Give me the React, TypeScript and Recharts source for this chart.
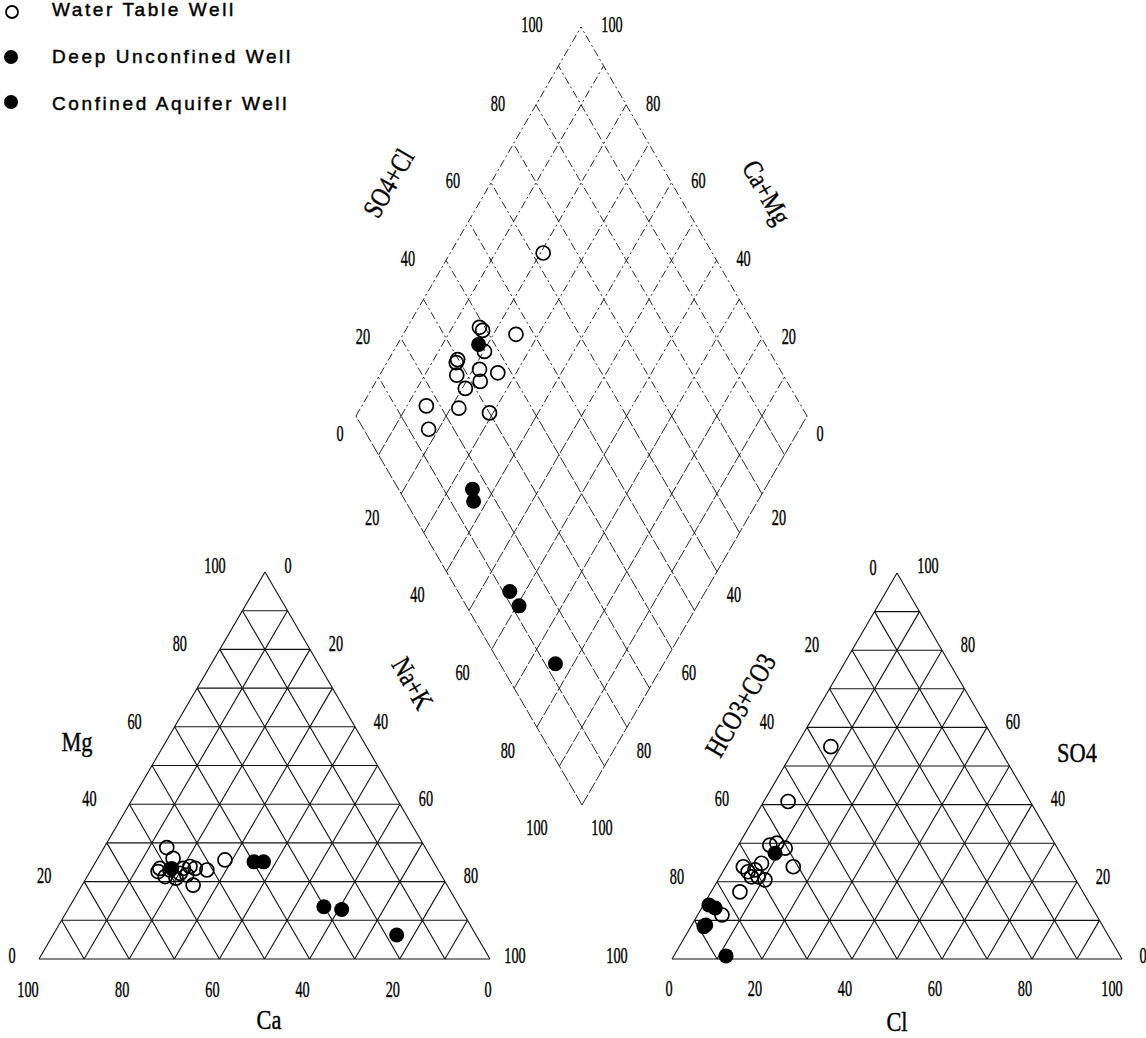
import React from "react";
import { ScatterChart, Scatter, XAxis, YAxis, ReferenceLine } from "recharts";

const W = 1146;
const H = 1038;

// cation triangle: [Ca, Mg] in %, Na+K is the rest
const cationWaterTable = [[57.3,28.8],[57.3,26.0],[46.0,25.6],[61.5,23.4],[62.3,22.6],[61.4,21.3],[56.3,23.4],[54.6,23.9],[53.7,23.4],[51.3,23.0],[56.3,19.1],[57.7,22.1],[56.4,21.7],[59.5,23.0],[59.2,20.9]];
const cationDeep = [[58.9,23.4],[39.8,25.1],[37.7,25.1]];
const cationConfined = [[30.1,13.5],[26.5,12.8],[17.6,6.2]];

// anion triangle: [Cl, SO4] in %, HCO3+CO3 is the rest
const anionWaterTable = [[7.8,55.0],[5.4,40.8],[7.0,29.5],[8.3,30.0],[10.8,28.7],[15.0,23.9],[3.9,23.9],[5.6,22.6],[6.9,23.1],[7.5,24.8],[10.4,20.5],[8.5,21.3],[7.0,21.3],[6.4,17.4],[5.4,11.4]];
const anionDeep = [[9.2,27.4],[1.2,14.0],[3.0,13.2]];
const anionConfined = [[2.9,8.4],[3.1,8.8],[11.6,0.8]];

// diamond: [SO4+Cl, Ca+Mg] in %
const diamondWaterTable = [[62.5,79.4],[38.8,84.0],[39.1,82.9],[46.0,75.0],[36.8,79.8],[29.8,84.7],[29.1,84.6],[33.4,78.6],[37.0,74.1],[27.6,82.9],[32.0,76.9],[27.8,79.3],[16.9,85.7],[23.8,78.2],[30.0,70.8],[14.4,82.2]];
const diamondDeep = [[36.4,82.0],[16.4,64.8],[15.1,63.0]];
const diamondConfined = [[11.5,43.4],[11.7,39.5],[12.3,24.0]];

const TICKS = [0, 20, 40, 60, 80, 100];
const GRID = [10, 20, 30, 40, 50, 60, 70, 80, 90];
const LEGEND = ["Water Table Well", "Deep Unconfined Well", "Confined Aquifer Well"];

type Pt = { x: number; y: number };
const CAT = { l: { x: 39, y: 959 }, r: { x: 490, y: 959 }, t: { x: 265, y: 572 } };
const AN = { l: { x: 672, y: 959 }, r: { x: 1122, y: 959 }, t: { x: 897, y: 573 } };
const DIA = { t: { x: 582, y: 25 }, l: { x: 356, y: 416 }, r: { x: 807, y: 416 }, b: { x: 582, y: 805 } };

const tern = (tri: typeof CAT, wl: number, wr: number, wt: number): Pt => ({
  x: (wl * tri.l.x + wr * tri.r.x + wt * tri.t.x) / 100,
  y: (wl * tri.l.y + wr * tri.r.y + wt * tri.t.y) / 100,
});
const cat = (ca: number, mg: number) => tern(CAT, ca, 100 - ca - mg, mg);
const an = (cl: number, so4: number) => tern(AN, 100 - cl - so4, cl, so4);
const dia = (s: number, c: number): Pt => ({
  x: DIA.b.x + (s / 100) * (DIA.r.x - DIA.b.x) + (c / 100) * (DIA.l.x - DIA.b.x),
  y: DIA.b.y + (s / 100) * (DIA.r.y - DIA.b.y) + (c / 100) * (DIA.l.y - DIA.b.y),
});

type Seg = [Pt, Pt];
function triGrid(tri: typeof CAT): Seg[] {
  const s: Seg[] = [[tri.l, tri.r], [tri.r, tri.t], [tri.t, tri.l]];
  GRID.forEach((v) => {
    s.push([tern(tri, 100 - v, 0, v), tern(tri, 0, 100 - v, v)]);
    s.push([tern(tri, v, 100 - v, 0), tern(tri, v, 0, 100 - v)]);
    s.push([tern(tri, 100 - v, v, 0), tern(tri, 0, v, 100 - v)]);
  });
  return s;
}
const diaUpper: Seg[] = [];
const diaLower: Seg[] = [];
[0, ...GRID, 100].forEach((v) => {
  diaLower.push([dia(v, 0), dia(v, 100 - v)]);
  diaLower.push([dia(0, v), dia(100 - v, v)]);
  if (v > 0) {
    diaUpper.push([dia(v, 100 - v), dia(v, 100)]);
    diaUpper.push([dia(100 - v, v), dia(100, v)]);
  }
});

const pts = (arr: number[][], f: (a: number, b: number) => Pt) => arr.map(([a, b]) => f(a, b));

// tick label placement: normal offset, with a few end values nudged like the original
type Off = [number, number];
const label = (p: Pt, v: number, o: Off, o0?: Off, o100?: Off) => {
  const d = v === 0 && o0 ? o0 : v === 100 && o100 ? o100 : o;
  return { x: p.x + d[0], y: p.y + d[1], t: String(v) };
};
const tickLabels = [
  ...TICKS.map((v) => label(cat(v, 0), v, [-7, 30], [-2, 30], [-11, 30])),
  ...TICKS.map((v) => label(cat(100 - v, v), v, [-40, -6], [-27, -4], [-50, -7])),
  ...TICKS.map((v) => label(cat(0, 100 - v), v, [26, -6], [23, -7], [25, -4])),
  ...TICKS.map((v) => label(an(v, 0), v, [-7, 29], [-3, 29], [-10, 29])),
  ...TICKS.map((v) => label(an(0, 100 - v), v, [-40, -6], [-24, -6], [-55, -4])),
  ...TICKS.map((v) => label(an(100 - v, v), v, [26, -6], [21, -4], [31, -8])),
  ...TICKS.slice(1).map((v) => label(dia(v, 100), v, [-38, -2], undefined, [-49, -3])),
  ...TICKS.slice(1).map((v) => label(dia(100, v), v, [27, -2], undefined, [31, -3])),
  ...TICKS.map((v) => label(dia(0, 100 - v), v, [-29, 23], [-16, 17], [-45, 22])),
  ...TICKS.map((v) => label(dia(100 - v, 0), v, [17, 23], [13, 17], [20, 22])),
];

const titles = [
  { x: 77, y: 741, t: "Mg", rot: 0 },
  { x: 269, y: 1019, t: "Ca", rot: 0 },
  { x: 897, y: 1021, t: "Cl", rot: 0 },
  { x: 1077, y: 752, t: "SO4", rot: 0 },
  { x: 413, y: 683, t: "Na+K", rot: 60 },
  { x: 740, y: 705, t: "HCO3+CO3", rot: -60 },
  { x: 388, y: 183, t: "SO4+Cl", rot: -60 },
  { x: 767, y: 192, t: "Ca+Mg", rot: 60 },
];

const legendText = LEGEND.map((t, i) => ({ x: 52, y: 9 + i * 47, t }));
const legendOpen = [{ x: 12, y: 12 }];
const legendFilled = [{ x: 11, y: 57 }, { x: 11, y: 102 }];

const SERIF = "'Liberation Serif', 'Times New Roman', serif";

const makeText = (size: number, sx: number, anchor: string, font: string, ls = 0, sw = 0.3) => (p: any) => {
  const d = p.payload;
  return (
    <text
      transform={`translate(${p.cx},${p.cy}) rotate(${d.rot ?? 0}) scale(${sx},1)`}
      textAnchor={anchor}
      dominantBaseline="central"
      fontFamily={font}
      fontSize={size}
      letterSpacing={ls}
      fill="#000"
      stroke="#000"
      strokeWidth={sw}
    >
      {d.t}
    </text>
  );
};
const digitShape = makeText(23, 0.62, "middle", SERIF, 0, 0.4);
const titleShape = makeText(28, 0.8, "middle", SERIF, 0, 0.4);
const legendShape = makeText(19, 1, "start", "'Liberation Sans', Arial, sans-serif", 2.6, 0.45);

const openShape = (p: any) => <circle cx={p.cx} cy={p.cy} r={7} fill="none" stroke="#000" strokeWidth={1.7} />;
const filledShape = (p: any) => <circle cx={p.cx} cy={p.cy} r={7.5} fill="#000" />;
const legOpen = (p: any) => <circle cx={p.cx} cy={p.cy} r={6} fill="none" stroke="#000" strokeWidth={1.8} />;
const legFilled = (p: any) => <circle cx={p.cx} cy={p.cy} r={7} fill="#000" />;

export default function App() {
  const lines = (segs: Seg[], key: string, dash?: string, w = 1) =>
    segs.map((s, i) => (
      <ReferenceLine
        key={key + i}
        segment={[{ x: s[0].x, y: s[0].y }, { x: s[1].x, y: s[1].y }]}
        stroke="#111"
        strokeWidth={w}
        strokeDasharray={dash}
        ifOverflow="visible"
      />
    ));
  return (
    <div style={{ position: "absolute", left: 0, top: 0, width: W, height: H, background: "#fff" }}>
      <ScatterChart width={W} height={H} margin={{ top: 0, right: 0, bottom: 0, left: 0 }}>
        <XAxis type="number" dataKey="x" domain={[0, W]} allowDataOverflow hide />
        <YAxis type="number" dataKey="y" domain={[0, H]} allowDataOverflow reversed hide />
        {lines(triGrid(CAT), "c", undefined, 1.1)}
        {lines(triGrid(AN), "a", undefined, 1.1)}
        {lines(diaUpper, "du", "8 3 2 3", 0.9)}
        {lines(diaLower, "dl", "12 2", 0.9)}
        <Scatter data={tickLabels} shape={digitShape} isAnimationActive={false} />
        <Scatter data={titles} shape={titleShape} isAnimationActive={false} />
        <Scatter data={legendText} shape={legendShape} isAnimationActive={false} />
        <Scatter data={legendOpen} shape={legOpen} isAnimationActive={false} />
        <Scatter data={legendFilled} shape={legFilled} isAnimationActive={false} />
        <Scatter name="Water Table Well" data={[...pts(cationWaterTable, cat), ...pts(anionWaterTable, an), ...pts(diamondWaterTable, dia)]} shape={openShape} isAnimationActive={false} />
        <Scatter name="Deep Unconfined Well" data={[...pts(cationDeep, cat), ...pts(anionDeep, an), ...pts(diamondDeep, dia)]} shape={filledShape} isAnimationActive={false} />
        <Scatter name="Confined Aquifer Well" data={[...pts(cationConfined, cat), ...pts(anionConfined, an), ...pts(diamondConfined, dia)]} shape={filledShape} isAnimationActive={false} />
      </ScatterChart>
    </div>
  );
}
